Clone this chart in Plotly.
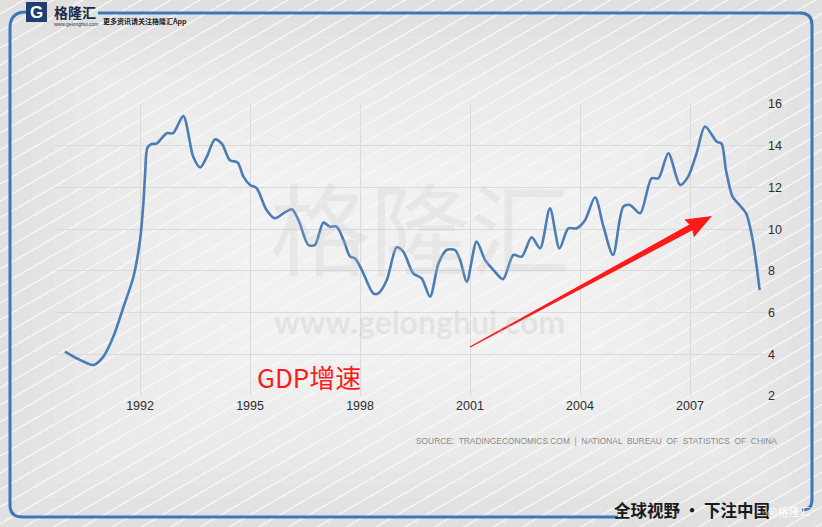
import numpy as np
import plotly.graph_objects as go

# ---------------- data ----------------
years = [1989.95, 1990.36, 1990.73, 1991.0, 1991.27, 1991.55, 1991.82, 1992.0, 1992.09, 1992.14,
         1992.2, 1992.32, 1992.45, 1992.73, 1992.9, 1993.18, 1993.45, 1993.64, 1993.82, 1994.04,
         1994.23, 1994.45, 1994.66, 1994.82, 1995.0, 1995.18, 1995.45, 1995.68, 1995.91, 1996.14,
         1996.32, 1996.59, 1996.77, 1997.0, 1997.18, 1997.36, 1997.55, 1997.73, 1997.86, 1998.05,
         1998.36, 1998.5, 1998.73, 1999.0, 1999.18, 1999.45, 1999.68, 1999.91, 2000.14, 2000.36,
         2000.59, 2000.73, 2000.91, 2001.18, 2001.41, 2001.64, 2001.9, 2002.18, 2002.41, 2002.68,
         2002.91, 2003.18, 2003.44, 2003.68, 2003.91, 2004.14, 2004.41, 2004.64, 2004.9, 2005.18,
         2005.36, 2005.64, 2005.95, 2006.14, 2006.41, 2006.73, 2006.95, 2007.18, 2007.41, 2007.73,
         2007.86, 2007.98, 2008.16, 2008.35, 2008.53, 2008.71, 2008.9]
gdp = [4.13, 3.73, 3.49, 3.89, 4.84, 6.28, 7.72, 9.48, 11.24, 12.68,
       13.9, 14.08, 14.1, 14.6, 14.6, 15.42, 13.47, 12.96, 13.47, 14.3,
       14.1, 13.3, 13.2, 12.52, 12.12, 11.96, 10.92, 10.52, 10.76, 10.95,
       10.44, 9.24, 9.24, 10.31, 10.12, 10.12, 9.48, 8.68, 8.6, 8.04,
       6.92, 6.92, 7.56, 9.13, 8.92, 7.88, 7.64, 6.76, 8.36, 9.0,
       9.0, 8.52, 7.48, 9.4, 8.52, 8.04, 7.6, 8.76, 8.68, 9.61,
       9.08, 11.0, 9.08, 10.04, 10.04, 10.44, 11.53, 10.12, 8.76, 11.08,
       11.16, 10.76, 12.44, 12.44, 13.64, 12.12, 12.52, 13.64, 14.92, 14.19,
       14.1, 12.84, 11.56, 11.16, 10.76, 9.48, 7.08]

x_ticks = [1992, 1995, 1998, 2001, 2004, 2007]
x_ticktext = ["1992", "1995", "1998", "2001", "2004", "2007"]
y_ticks = [2, 4, 6, 8, 10, 12, 14, 16]

# ---------------- geometry helpers ----------------
W, H = 822, 527
L, R, T, B = 55, 55, 104, 131
PW, PH = W - L - R, H - T - B


def px(x):
    return (x - L) / PW


def py(y):
    return 1 - (y - T) / PH


shapes = []

# diagonal white stripes of the background
for c in np.arange(-20, 1010, 17):
    x0, y0 = 0, c
    x1, y1 = W, c - 0.58 * W
    shapes.append(dict(type="line", xref="paper", yref="paper", layer="below",
                       x0=px(x0), y0=py(y0), x1=px(x1), y1=py(y1),
                       line=dict(color="rgba(255,255,255,0.75)", width=1.3)))

# lighter centre (soft gradient made of many faint nested rects)
steps = 12
for i in range(steps):
    f = i / (steps - 1)
    a = 12 + f * 230
    b = 22 + f * 150
    c_ = 810 - f * 230
    d = 512 - f * 150
    shapes.append(dict(type="rect", xref="paper", yref="paper", layer="below",
                       x0=px(a), y0=py(b), x1=px(c_), y1=py(d),
                       fillcolor="rgba(255,255,255,0.09)", line=dict(width=0)))


def path(points_cmds):
    out = []
    for cmd, pts in points_cmds:
        s = cmd + " " + " ".join(f"{px(x):.5f},{py(y):.5f}" for x, y in pts)
        out.append(s)
    return " ".join(out)


blue = "#3b78b9"
# left / bottom frame
shapes.append(dict(type="path", xref="paper", yref="paper", layer="above",
                   path=path([("M", [(26, 12)]), ("Q", [(10, 12), (10, 28)]), ("L", [(10, 505)]),
                              ("Q", [(10, 517), (22, 517)]), ("L", [(618, 517)])]),
                   line=dict(color=blue, width=3)))
# top / right frame
shapes.append(dict(type="path", xref="paper", yref="paper", layer="above",
                   path=path([("M", [(98, 13)]), ("L", [(800, 13)]), ("Q", [(812, 13), (812, 25)]),
                              ("L", [(812, 500)]), ("Q", [(812, 510), (802, 510)])]),
                   line=dict(color=blue, width=3)))

# logo icon
shapes.append(dict(type="rect", xref="paper", yref="paper", layer="above",
                   x0=px(26), y0=py(2), x1=px(47), y1=py(22),
                   fillcolor="#1f3e72", line=dict(width=0)))

# red arrow (polygon)
tail = np.array([470.0, 347.0])
tip = np.array([712.0, 216.0])
u = (tip - tail) / np.linalg.norm(tip - tail)
n = np.array([-u[1], u[0]])
base = tip - 24 * u
pts = [tail + 0.6 * n, base + 3.2 * n, base - 2 * u + 10 * n, tip,
       base - 2 * u - 10 * n, base - 3.2 * n, tail - 0.6 * n]
arrow_path = "M " + " L ".join(f"{px(p[0]):.5f},{py(p[1]):.5f}" for p in pts) + " Z"
shapes.append(dict(type="path", xref="paper", yref="paper", layer="above",
                   path=arrow_path, fillcolor="#ff1a1a", line=dict(width=0)))

annotations = []


def txt(x, y, s, size, color, family="Noto Sans CJK SC", xanchor="center", weight="normal"):
    annotations.append(dict(x=px(x), y=py(y), xref="paper", yref="paper", text=s,
                            showarrow=False, xanchor=xanchor, yanchor="middle",
                            font=dict(size=size, color=color, family=family, weight=weight)))


# watermark
txt(420, 224, "格隆汇", 100, "rgba(190,190,190,0.22)")
txt(420, 321, "www.gelonghui.com", 32, "rgba(190,190,190,0.28)", family="Lato", weight="bold")

# logo texts
txt(36.5, 12.5, "G", 17, "white", family="Liberation Sans", weight="bold")
txt(52, 11.5, "格隆汇", 14, "#1c2a4a", xanchor="left", weight="bold")
txt(52, 24, "www.gelonghui.com", 5, "#333333", family="Liberation Sans", xanchor="left")
txt(101, 21, "更多资讯请关注格隆汇App", 7, "#222222", xanchor="left", weight="bold")

# GDP label
txt(309, 376, "GDP增速", 26, "#ff1a1a")

# source
txt(779, 441, "SOURCE:  TRADINGECONOMICS.COM  |  NATIONAL  BUREAU  OF  STATISTICS  OF  CHINA",
    8.4, "#8a8a8a", family="Liberation Sans", xanchor="right")

# bottom slogan
txt(692, 510, "全球视野 · 下注中国", 16.5, "#1a1a1a", weight="bold")
txt(788, 511, "@格隆汇", 11, "rgba(255,255,255,0.95)")

fig = go.Figure()
fig.add_trace(go.Scatter(x=years, y=gdp, mode="lines", hoverinfo="skip",
                         line=dict(color="#4a7db3", width=2.6, shape="spline", smoothing=0.8)))

tickfont = dict(family="Liberation Sans Narrow, Arial Narrow, Liberation Sans, Arial",
                size=12.5, color="#2e2e2e")
fig.update_layout(
    width=W, height=H,
    margin=dict(l=L, r=R, t=T, b=B),
    paper_bgcolor="#e0e0e0",
    plot_bgcolor="rgba(0,0,0,0)",
    showlegend=False,
    shapes=shapes,
    annotations=annotations,
    xaxis=dict(range=[1989.68, 2009.1], tickvals=x_ticks, ticktext=x_ticktext,
               showgrid=True, gridcolor="#dadada", gridwidth=1, zeroline=False,
               showline=False, ticks="", tickfont=tickfont, fixedrange=True),
    yaxis=dict(range=[2, 16], tickvals=y_ticks, side="right",
               showgrid=True, gridcolor="#dadada", gridwidth=1, zeroline=False,
               showline=False, ticks="", tickfont=tickfont, fixedrange=True),
)

fig.write_html("out.html")
